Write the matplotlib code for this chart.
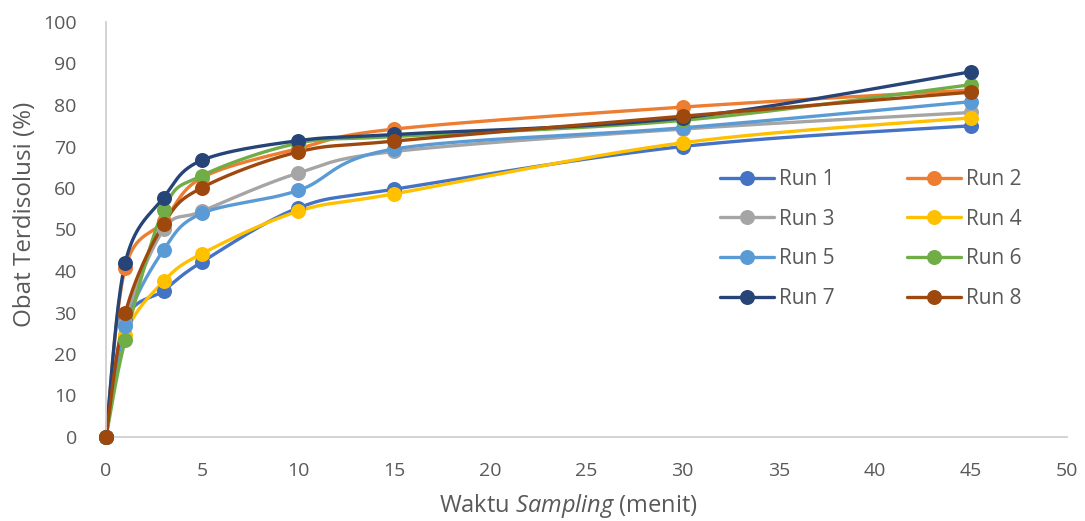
import numpy as np
import matplotlib
matplotlib.use("Agg")
import matplotlib.pyplot as plt
from matplotlib.lines import Line2D

plt.rcParams['font.family'] = ['Open Sans', 'DejaVu Sans']
plt.rcParams['mathtext.fontset'] = 'custom'
plt.rcParams['mathtext.rm'] = 'Open Sans'
plt.rcParams['mathtext.it'] = 'Open Sans:italic'

# Sampling times (minutes)
waktu = [0, 1, 3, 5, 10, 15, 30, 45]

# Dissolved drug (%) for each run
run_1 = [0, 28.0, 35.3, 42.2, 55.2, 59.7, 70.0, 75.0]
run_2 = [0, 40.7, 52.0, 62.5, 69.5, 74.2, 79.5, 83.6]
run_3 = [0, 27.5, 50.0, 54.4, 63.6, 68.8, 74.2, 78.2]
run_4 = [0, 24.6, 37.5, 44.2, 54.4, 58.6, 70.9, 76.9]
run_5 = [0, 26.7, 45.1, 53.9, 59.4, 69.4, 74.5, 80.8]
run_6 = [0, 23.4, 54.8, 63.0, 70.8, 72.4, 76.3, 84.9]
run_7 = [0, 42.0, 57.7, 66.7, 71.4, 72.9, 76.9, 88.0]
run_8 = [0, 29.8, 51.3, 60.1, 68.7, 71.3, 77.3, 83.1]

labels = ["Run 1", "Run 2", "Run 3", "Run 4", "Run 5", "Run 6", "Run 7", "Run 8"]
series = [run_1, run_2, run_3, run_4, run_5, run_6, run_7, run_8]
colors = ["#4472C4", "#ED7D31", "#A5A5A5", "#FFC000",
          "#5B9BD5", "#70AD47", "#264478", "#9E480E"]


def smooth_curve(x, y, n=40):
    """Bezier-smoothed path through the points (spreadsheet-style smoothed line)."""
    pts = np.column_stack([np.asarray(x, float), np.asarray(y, float)])
    # work in display-like proportions so the curve bends evenly
    sx, sy = 19.22, 4.15
    P = pts * [sx, sy]
    out = [P[0]]
    for i in range(len(P) - 1):
        p0 = P[i - 1] if i > 0 else P[i]
        p1 = P[i]
        p2 = P[i + 1]
        p3 = P[i + 2] if i + 2 < len(P) else P[i + 1]
        c1 = p1 + (p2 - p0) / 6.0
        c2 = p2 - (p3 - p1) / 6.0
        t = np.linspace(0, 1, n)[1:, None]
        seg = ((1 - t) ** 3) * p1 + 3 * ((1 - t) ** 2) * t * c1 \
            + 3 * (1 - t) * t ** 2 * c2 + t ** 3 * p2
        out.extend(seg)
    out = np.array(out) / [sx, sy]
    return out[:, 0], out[:, 1]


fig = plt.figure(figsize=(10.85, 5.21), dpi=100)
ax = fig.add_axes([106 / 1085, 1 - 437 / 521, (1067 - 106) / 1085, (437 - 22) / 521])

MS = 10.8
LW = 2.4
handles = []
for lab, vals, col in zip(labels, series, colors):
    xs, ys = smooth_curve(waktu, vals)
    ax.plot(xs, ys, color=col, lw=LW, solid_capstyle='round', zorder=2, clip_on=False)
    ax.plot(waktu, vals, ls='none', marker='o', ms=MS, color=col,
            markeredgewidth=0, zorder=3, clip_on=False)
    handles.append(Line2D([0], [0], color=col, lw=LW, marker='o', ms=MS,
                          markeredgewidth=0, solid_capstyle='round'))

ax.set_xlim(0, 50)
ax.set_ylim(0, 100)
ax.set_xticks(range(0, 51, 5))
ax.set_yticks(range(0, 101, 10))
ax.tick_params(axis='both', length=0, labelsize=14, labelcolor='#595959')
ax.tick_params(axis='x', pad=18)
ax.tick_params(axis='y', pad=21)

for side in ['top', 'right']:
    ax.spines[side].set_visible(False)
for side in ['left', 'bottom']:
    ax.spines[side].set_color('#D0D0D0')
    ax.spines[side].set_linewidth(1.3)

ax.set_xlabel("Waktu $\\it{Sampling}$ (menit)", fontsize=17, color='#595959')
ax.xaxis.set_label_coords((568 - 106) / 961, -(492 - 437) / 415)
ax.set_ylabel("Obat Terdisolusi (%)", fontsize=17.4, color='#595959')
ax.yaxis.set_label_coords(-(106 - 37) / 961, (437 - 214) / 415)

# row-major order in a two-column legend
order = [0, 2, 4, 6, 1, 3, 5, 7]
leg = ax.legend([handles[i] for i in order], [labels[i] for i in order], ncol=2,
                loc='upper left',
                bbox_to_anchor=(714 / 1085, 1 - 163 / 521), bbox_transform=fig.transFigure,
                frameon=False, fontsize=15, handlelength=2.56, handletextpad=0.25,
                columnspacing=3.5, labelspacing=0.89, labelcolor='#595959',
                borderaxespad=0, borderpad=0.3)

fig.savefig("out.png", dpi=100)
